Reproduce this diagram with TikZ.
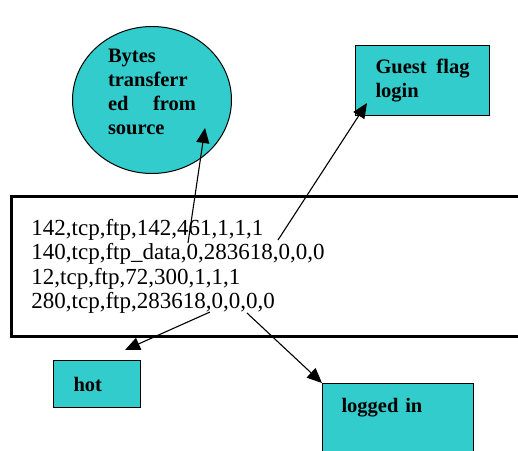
\documentclass[tikz,border=0pt]{standalone}
\usepackage{fontspec}
\setmainfont{Liberation Serif}
\usetikzlibrary{shapes.geometric,arrows.meta}

\definecolor{turq}{HTML}{33CCCC}

\tikzset{
  tagbox/.style={draw, fill=turq, line width=1pt, align=left,
    font=\bfseries\fontsize{20.5}{24}\selectfont},
  pointer/.style={-{Triangle[length=15pt,width=13pt]}, line width=1.1pt},
}

\begin{document}
\begin{tikzpicture}[x=1pt, y=-1pt]
\useasboundingbox (0,0) rectangle (518,450);

% Etiquetas
\node[tagbox, ellipse, minimum width=159pt, minimum height=147pt,
  text width=88pt, inner sep=0pt] (bytes) at (152,100)
  {Bytes\\transferr\\ed \hfill from\\source\rule[-16pt]{0pt}{16pt}};

\node[tagbox, anchor=north west, minimum width=134pt, minimum height=70pt,
  text width=94pt, inner xsep=20pt] (guest) at (355,45) {Guest \hfill flag\\login};

\node[tagbox, anchor=north west, minimum width=87pt, minimum height=47pt,
  text width=47pt, inner xsep=20pt] (hot) at (53,360) {hot};

\node[tagbox, anchor=north west, text width=113pt, inner xsep=19pt,
  inner ysep=15pt, text height=14pt, text depth=50pt] (logged) at (322,383) {logged in};

% Registros
\node[draw, line width=2.8pt, anchor=north west, minimum height=140pt,
  text width=490pt, inner xsep=20pt, align=left,
  font=\fontsize{23}{24.5}\selectfont] (records) at (10,195)
  {142,tcp,ftp,142,461,1,1,1\\
   140,tcp,ftp\_data,0,283618,0,0,0\\
   12,tcp,ftp,72,300,1,1,1\\
   280,tcp,ftp,283618,0,0,0,0};

% Flechas
\coordinate (srcA) at (188,243);
\coordinate (srcB) at (278,240);
\coordinate (srcC) at (210,312);
\coordinate (srcD) at (247,313);
\coordinate (tipA) at (205,128);
\coordinate (tipB) at (367,103);
\coordinate (tipC) at (125,350);
\coordinate (tipD) at (322,383);

\draw[pointer] (srcA) -- (tipA);
\draw[pointer] (srcB) -- (tipB);
\draw[pointer] (srcC) -- (tipC);
\draw[pointer] (srcD) -- (tipD);
\end{tikzpicture}
\end{document}
